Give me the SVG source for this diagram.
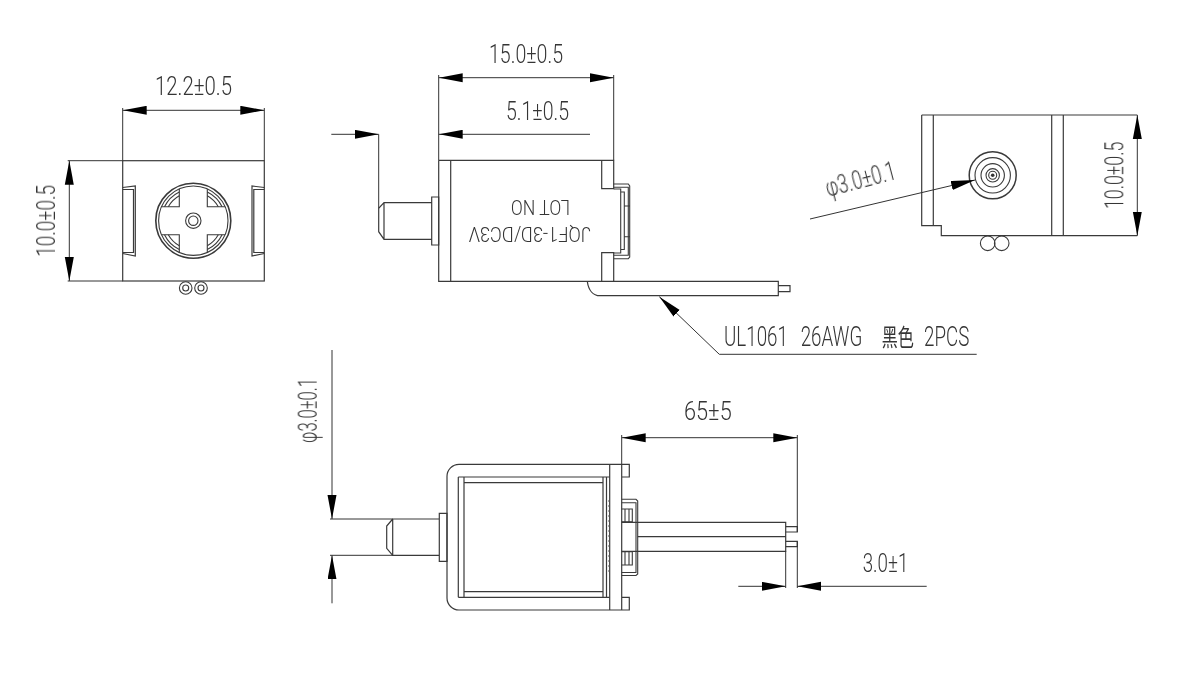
<svg xmlns="http://www.w3.org/2000/svg" xmlns:xlink="http://www.w3.org/1999/xlink" width="1200" height="674" viewBox="0 0 1200 674">
<style>
.l{fill:none;stroke:#3a3a3a;stroke-width:1.2}
.t{stroke:#3a3a3a;stroke-width:1.1;fill:none}
.d{fill:none;stroke:#333;stroke-width:1;marker-end:url(#a)}
.b{marker-start:url(#s)}
.n{fill:none;stroke:#333;stroke-width:1}
text{font-family:"Roboto","Liberation Sans",sans-serif;font-weight:300;fill:#333;font-size:25px}
.c{font-family:"Noto Sans CJK SC",sans-serif;font-weight:400;font-size:24px}
</style>
<defs>
<marker id="a" markerUnits="userSpaceOnUse" markerWidth="26" markerHeight="10" refX="24" refY="4.5" orient="auto"><path d="M0 0L24 4.5L0 9z" fill="#000"/></marker>
<marker id="s" markerUnits="userSpaceOnUse" markerWidth="26" markerHeight="10" refX="0" refY="4.5" orient="auto"><path d="M24 0L0 4.5L24 9z" fill="#000"/></marker>
<g id="q"><path class="t" d="M-14-31.7V-14H-31.7"/><path class="t" d="M-14-28.8A32 32 0 0 0-28.8-14M-14-25A28.5 28.5 0 0 0-25-14"/></g>
</defs>
<rect width="1200" height="674" fill="#fff"/>

<g id="front-view">
<rect class="l" x="122.7" y="160.7" width="141.6" height="120.3"/>
<path class="l" d="M122.7 187.5L135.3 186V256L122.7 253.5M122.7 189.5H133.5V252.5H122.7"/>
<path class="l" d="M264.3 187.5L252 186V256L264.3 253.5M264.3 189.5H253.8V252.5H264.3"/>
<g transform="translate(193.3 220.7)">
<circle class="l" r="37.5" style="stroke-width:1.6"/><circle class="t" r="34.7"/>
<use xlink:href="#q" href="#q"/><use xlink:href="#q" href="#q" transform="rotate(90)"/><use xlink:href="#q" href="#q" transform="rotate(180)"/><use xlink:href="#q" href="#q" transform="rotate(270)"/>
<circle class="t" r="7.7"/><circle class="t" r="4.7"/>
</g>
<g><circle class="t" cx="185.7" cy="288" r="6.3"/><circle class="t" cx="185.7" cy="288" r="3"/><circle class="t" cx="201" cy="288" r="6.3"/><circle class="t" cx="201" cy="288" r="3"/></g>
</g>

<g id="side-view">
<path class="l" d="M438.7 160.3H613.7V188.7H601.7V160.3M438.7 160.3V281.3H613.7V252.7H601.7V281.3M450.7 160.3V281.3"/>
<path class="l" d="M431.7 197H438.7V245H431.7zM431.7 202.7H384L378.7 208.3V231.7L384 239.3H431.7M384 202.7V239.3"/>
<path class="t" d="M613.7 184H628.3L629.7 186V257L628.3 258.7H613.7M613.7 187.3H628.3V255.3H613.7M613.7 189H620.7V253H613.7M620.7 192H624.3V249.5H620.7M624.3 206H629.7M624.3 236.7H629.7M624.3 192V206"/>
<path class="l" d="M587.3 281.3C588.5 290 593 295.7 600 295.7H778.3V281.3H613.7M778.3 285.7H790V291.7H778.3"/>
</g>

<g id="rear-view">
<path class="l" d="M921.7 115V225.7H941.3V235.7H1137.3M921.7 115H1137.3M933.3 115V225.7M1051.7 115V235.7M1063.3 115V235.7"/>
<g transform="translate(992.7 175.3)"><circle class="l" r="23.5" style="stroke-width:1.5"/><circle class="t" r="17.7"/><circle class="t" r="11.7"/><circle class="t" r="6.7"/><circle class="t" r="4"/><circle r="1.8" fill="#333"/></g>
<circle class="t" cx="987.7" cy="243.3" r="7.3"/><circle class="t" cx="1001.7" cy="243.3" r="7.3"/>
</g>

<g id="top-view">
<path class="l" d="M609.7 464.3H459A12 12 0 0 0 447 476.3V598A12 12 0 0 0 459 610H609.7zM609.7 464.3H629.3V477H621.7M609.7 610H629.3V597.3H621.7M621.7 464.3V610"/>
<path class="l" d="M458.3 477H609.7M458.3 597.3H609.7M458.3 477V597.3M464 477V597.3M464 482.7H603M464 591.7H603M603 477V597.3M606.5 477V597.3"/>
<path d="M609 500V575" fill="none" stroke="#555" stroke-dasharray="2 3"/>
<path class="l" d="M439.3 513.3H447V561.3H439.3zM439.3 519H392.7V555.3H439.3M392.7 519L386.7 526V548.3L392.7 555.3"/>
<path class="t" d="M621.7 499.3H636L637.7 501V574L636 575.5H621.7M621.7 502.7H636V572.5H621.7M621.7 509H632.3V521.7H621.7M625 509V521.7M629 509V521.7M621.7 551.7H632.3V565H621.7M625 551.7V565M629 551.7V565"/>
<path class="l" d="M621.7 522.3H785.7V551.3H621.7M637.7 536.7H785.7"/>
<path class="l" d="M785.7 526.7H797.3V532H785.7M785.7 541.3H797.3V546.7H785.7"/>
</g>

<g id="connectors">
<path class="d b" d="M122.7 110.3H264.3"/><path class="n" d="M122.7 108V160.7M264.3 108V160.7"/>
<path class="d b" d="M69.3 160.7V281"/><path class="n" d="M67.7 160.7H122.7M67.7 281H122.7"/>
<path class="d b" d="M438.7 77.7H613.7"/><path class="n" d="M438.7 75V160.3M613.7 75V160.3"/>
<path class="n b" d="M438.7 134.3H590"/>
<path class="d" d="M331.3 134.3H378.7"/><path class="n" d="M378.7 134.3V208.3"/>
<path class="d" d="M810 219L975 180"/>
<path class="d b" d="M1137.3 115V235.7"/>
<path class="d" d="M719.3 354.3L659.3 296.7"/><path class="n" d="M719.3 354.3H976.7"/>
<path class="d" d="M332 350V519"/><path class="d" d="M332 603.3V555.3"/><path class="n" d="M330 519H392.7M330 555.3H392.7"/>
<path class="d b" d="M621.7 437.7H797.3"/><path class="n" d="M621.7 435V464.3M797.3 435V532M797.3 541.3V588M785.7 551.3V588"/>
<path class="d" d="M738.3 586.3H785.7"/><path class="d" d="M926.7 586.3H797.3"/>
</g>

<g id="labels" opacity="0.99">
<text x="155" y="95" textLength="77" lengthAdjust="spacingAndGlyphs">12.2±0.5</text>
<text transform="translate(55 256.7) rotate(-90)" textLength="71.7" lengthAdjust="spacingAndGlyphs">10.0±0.5</text>
<text x="489" y="62.7" textLength="74" lengthAdjust="spacingAndGlyphs">15.0±0.5</text>
<text x="506" y="120" textLength="63" lengthAdjust="spacingAndGlyphs">5.1±0.5</text>
<text transform="translate(590.7 226.7) rotate(180)" textLength="122" lengthAdjust="spacingAndGlyphs" style="font-size:20px">JQF1-3D/DC3V</text>
<text transform="translate(570 200) rotate(180)" textLength="59" lengthAdjust="spacingAndGlyphs" style="font-size:20px">LOT NO</text>
<text transform="translate(828 197) rotate(-14.7)" textLength="72" lengthAdjust="spacingAndGlyphs">φ3.0±0.1</text>
<text transform="translate(1123.3 209) rotate(-90)" textLength="67.3" lengthAdjust="spacingAndGlyphs">10.0±0.5</text>
<text transform="translate(724 346) scale(.67 1)" style="font-size:28px"><tspan x="0">UL1061</tspan> <tspan x="114.5">26AWG</tspan> <tspan class="c" x="235.4">黑色</tspan> <tspan x="298.5">2PCS</tspan></text>
<text transform="translate(316.7 443) rotate(-90)" textLength="65" lengthAdjust="spacingAndGlyphs">φ3.0±0.1</text>
<text x="684" y="420" textLength="47.7" lengthAdjust="spacingAndGlyphs">65±5</text>
<text x="862.7" y="572.3" textLength="45.6" lengthAdjust="spacingAndGlyphs">3.0±1</text>
</g>
</svg>
